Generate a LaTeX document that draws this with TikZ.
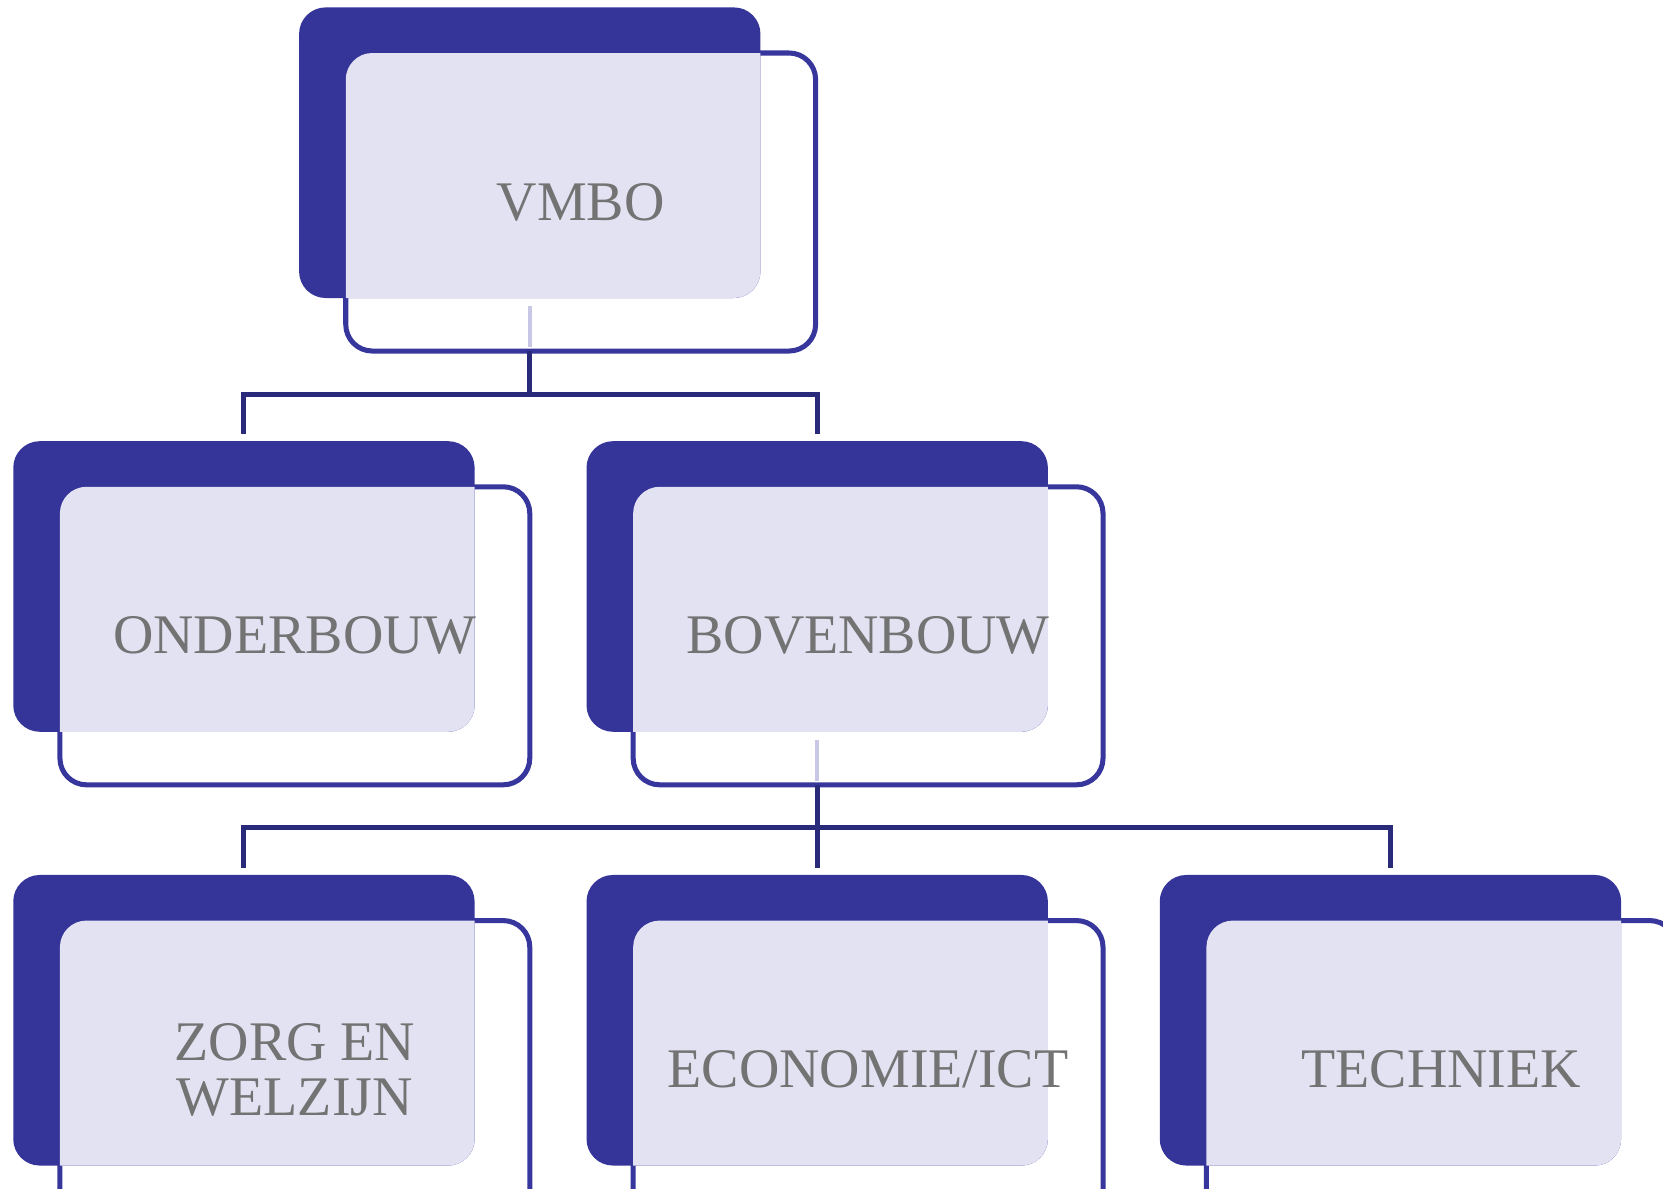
\documentclass[tikz,border=0pt]{standalone}
\usepackage{fontspec}
\setmainfont{Liberation Serif}
\usetikzlibrary{positioning}
\definecolor{backblue}{HTML}{343499}
\definecolor{frameblue}{HTML}{36369C}
\definecolor{linkblue}{HTML}{2A2A7A}
\definecolor{dotfill}{HTML}{E2E2F3}
\definecolor{textgray}{HTML}{737373}

\begin{document}
\begin{tikzpicture}[
    node distance=1.28cm and 0.975cm,
    frame/.style={rectangle, rounded corners=0.25cm, draw=frameblue, fill=white, line width=1.35pt, minimum width=4.43cm, minimum height=2.81cm, inner sep=0pt, outer sep=0pt},
    back/.style={rectangle, rounded corners=0.25cm, fill=backblue, minimum width=4.35cm, minimum height=2.74cm, inner sep=0pt, outer sep=0pt, anchor=north west},
    txt/.style={text=textgray, align=center, inner sep=0pt, font=\fontsize{15}{14.7}\selectfont},
    link/.style={draw=linkblue, line width=1.35pt, shorten >=0.07cm},
    ghost/.style={draw=dotfill!85!frameblue, line width=1pt}
]
\useasboundingbox (0,0) rectangle (15.68,11.21);
\clip (0,0) rectangle (15.68,11.21);

\node[frame] (vmbo) at (5.475,9.305) {};
\node[frame, below=of vmbo, xshift=-2.695cm] (onder) {};
\node[frame, right=of onder] (boven) {};
\node[frame, below=of onder] (zorg) {};
\node[frame, below=of boven] (econ) {};
\node[frame, right=of econ] (tech) {};

\foreach \n/\t in {vmbo/VMBO, onder/ONDERBOUW, boven/BOVENBOUW, zorg/{ZORG EN\\WELZIJN}, econ/{ECONOMIE/ICT}, tech/TECHNIEK} {
    \node[back, at={([shift={(-0.44cm,0.43cm)}]\n.north west)},
        path picture={\fill[dotfill, rounded corners=0.25cm] (\n.south west) rectangle (\n.north east);}] (\n-back) {};
    \node[txt] (\n-text) at (\n) {\t};
}

\draw[ghost] ([yshift=-0.08cm]vmbo-back.south) -- ([yshift=0.04cm]vmbo-back.south |- vmbo.south);
\draw[ghost] ([yshift=-0.08cm]boven-back.south) -- ([yshift=0.04cm]boven-back.south |- boven.south);

\draw[link] (vmbo-back.south |- vmbo.south) -- ++(0,-0.41) -| (onder-back.north);
\draw[link] (vmbo-back.south |- vmbo.south) -- ++(0,-0.41) -| (boven-back.north);
\draw[link] (boven-back.south |- boven.south) -- ++(0,-0.40) -| (zorg-back.north);
\draw[link] (boven-back.south |- boven.south) -- (econ-back.north);
\draw[link] (boven-back.south |- boven.south) -- ++(0,-0.40) -| (tech-back.north);

\end{tikzpicture}
\end{document}
